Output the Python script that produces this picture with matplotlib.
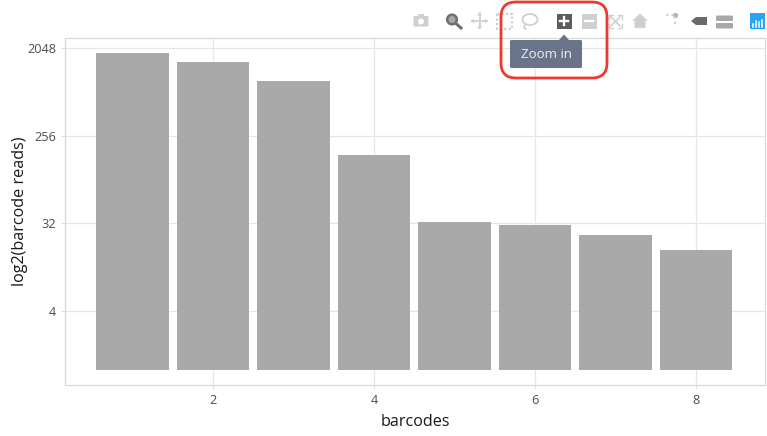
import numpy as np
import matplotlib
matplotlib.use('Agg')
import matplotlib.pyplot as plt
from matplotlib.patches import Rectangle, FancyBboxPatch, Polygon, Circle, Ellipse

plt.rcParams['font.family'] = ['Open Sans', 'DejaVu Sans']

# values
barcodes = [1, 2, 3, 4, 5, 6, 7, 8]
reads = [1820, 1470, 935, 162, 33, 31, 24, 17]
xticks = [2, 4, 6, 8]
yticks = [4, 32, 256, 2048]

W, H = 767, 436
fig = plt.figure(figsize=(W / 100, H / 100), dpi=100)
ax = fig.add_axes([65 / W, 1 - 385 / H, 700 / W, 347 / H])

ax.bar(barcodes, np.array(reads) - 1, bottom=1, width=0.9, color='#a9a9a9', zorder=2)
ax.set_yscale('log', base=2)
ax.set_xlim(0.16, 8.86)
ax.set_ylim(2 ** -0.53, 2 ** 11.34)
ax.set_xticks(xticks)
ax.set_xticklabels([str(v) for v in xticks])
ax.set_yticks(yticks)
ax.set_yticklabels([str(v) for v in yticks])
ax.minorticks_off()
ax.grid(True, color='#e6e6e6', lw=0.9, zorder=0)
ax.set_axisbelow(True)
ax.tick_params(length=3.2, width=0.9, color='#e0e0e0', labelsize=9.2, labelcolor='#4d4d4d', pad=3)
for s in ax.spines.values():
    s.set_color('#d8d8d8')
    s.set_linewidth(0.9)
ax.set_xlabel('barcodes', fontsize=11.6, color='#1a1a1a', labelpad=5)
ax.set_ylabel('log2(barcode reads)', fontsize=11.6, color='#1a1a1a', labelpad=0)
ax.yaxis.set_label_coords(-(65 - 28) / 700, 0.5)

# overlay in pixel coordinates for the modebar screenshot stuff
ov = fig.add_axes([0, 0, 1, 1], facecolor='none')
ov.set_xlim(0, W)
ov.set_ylim(H, 0)
ov.axis('off')

light = '#cfcfcf'
dark = '#5c5c5c'

# camera
ov.add_patch(FancyBboxPatch((413.5, 16), 15, 10.5, boxstyle='round,pad=0,rounding_size=1.5', fc=light, ec='none'))
ov.add_patch(Rectangle((418, 14), 6, 3, fc=light, ec='none'))
ov.add_patch(Circle((421, 21.5), 3, fc='white', ec='none'))
# magnifier
ov.add_patch(Circle((452, 19.5), 4.8, fc='#a8a8a8', ec='#707070', lw=1.8))
ov.plot([456, 461], [23.5, 28], color='#707070', lw=2.2)
# pan
ov.plot([472, 487], [21, 21], color=light, lw=1.3)
ov.plot([479.5, 479.5], [13.5, 28.5], color=light, lw=1.3)
for p in ([(471, 21), (474, 18.5), (474, 23.5)], [(488, 21), (485, 18.5), (485, 23.5)],
          [(479.5, 12.5), (477, 15.5), (482, 15.5)], [(479.5, 29.5), (477, 26.5), (482, 26.5)]):
    ov.add_patch(Polygon(p, fc=light, ec='none'))
# box select
ov.add_patch(Rectangle((497, 14), 15, 15, fc='none', ec=light, lw=1.6, ls=(0, (1, 1))))
# lasso
ov.add_patch(Ellipse((530, 19.5), 15, 11, fc='none', ec=light, lw=1.3))
ov.plot([525, 524, 526], [24, 28, 29], color=light, lw=1.2)
# zoom in / zoom out
ov.add_patch(Rectangle((556.5, 14), 15, 15, fc=dark, ec='none'))
ov.plot([560, 568], [21.5, 21.5], color='white', lw=1.7)
ov.plot([564, 564], [17.5, 25.5], color='white', lw=1.7)
ov.add_patch(Rectangle((581.5, 14), 15, 15, fc=light, ec='none'))
ov.plot([585, 593], [21.5, 21.5], color='white', lw=1.7)
# autoscale
for cx, cy, dx, dy in [(609, 15, 1, 1), (622, 15, -1, 1), (609, 28, 1, -1), (622, 28, -1, -1)]:
    ov.plot([cx + dx * 4, cx, cx], [cy, cy, cy + dy * 4], color=light, lw=1)
ov.plot([611, 620], [17, 26], color=light, lw=1.2)
ov.plot([620, 611], [17, 26], color=light, lw=1.2)
# home
ov.add_patch(Polygon([(632, 21), (640, 13.5), (648, 21), (645.5, 21), (645.5, 28), (634.5, 28), (634.5, 21)],
                     fc=light, ec='none'))
# spikelines
ov.plot([666, 675], [15.5, 15.5], color=light, lw=1.3, ls=(0, (1.5, 1.5)))
ov.plot([675, 675], [16, 27], color=light, lw=1.3, ls=(0, (1.5, 1.5)))
ov.add_patch(Circle((675.5, 15.5), 2.6, fc='#b4b4b4', ec='none'))
# hover closest
ov.add_patch(Polygon([(691, 21), (696, 17), (707, 17), (707, 25), (696, 25)], fc='#6a6a6a', ec='none'))
# hover compare
ov.add_patch(FancyBboxPatch((716, 15.5), 17, 5.5, boxstyle='round,pad=0,rounding_size=1.2', fc='#a8a8a8', ec='none'))
ov.add_patch(FancyBboxPatch((716, 23), 17, 5.5, boxstyle='round,pad=0,rounding_size=1.2', fc='#a8a8a8', ec='none'))
# plotly logo
ov.add_patch(Rectangle((749.5, 13.5), 15.5, 16, fc='#2aa3f5', ec='none'))
for bx, top in zip([752.5, 755.5, 758.5, 761.5], [24, 21, 22.5, 20]):
    ov.plot([bx, bx], [top, 27], color='white', lw=1.1)

# tooltip
ov.add_patch(FancyBboxPatch((510, 40), 72, 28, boxstyle='round,pad=0,rounding_size=1.5', fc='#69738a', ec='none', zorder=5))
ov.add_patch(Polygon([(559, 40), (564, 34.5), (569, 40)], fc='#69738a', ec='none', zorder=5))
ov.text(546.5, 54.5, 'Zoom in', color='#eef0f4', fontsize=9.5, ha='center', va='center', zorder=6)

# red callout
ov.add_patch(FancyBboxPatch((501, 2), 106, 76, boxstyle='round,pad=0,rounding_size=15', fc='none', ec='#ee3a2c', lw=2, zorder=7))

fig.savefig('out.png', dpi=100)
